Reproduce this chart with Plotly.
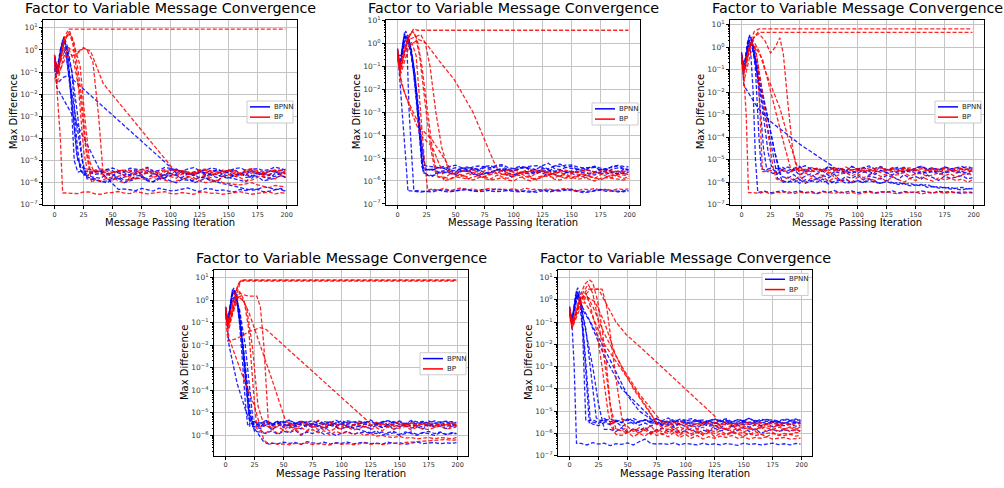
import plotly.graph_objects as go

TITLE = "Factor to Variable Message Convergence"
X_LABEL = "Message Passing Iteration"
Y_LABEL = "Max Difference"
X_TICKS = [0, 25, 50, 75, 100, 125, 150, 175, 200]
Y_TICK_EXPONENTS = [-7, -6, -5, -4, -3, -2, -1, 0, 1]
SERIES_NAMES = ["BPNN", "BP"]
SERIES_COLORS = ["#0000ff", "#ff0000"]
# iterations at which the converged (noise floor) readings are listed
FLOOR_X = [5, 10, 15, 20, 25, 30, 35, 40, 45, 50, 55, 60, 65, 70, 75, 80, 85, 90, 95, 100,
           105, 110, 115, 120, 125, 130, 135, 140, 145, 150, 155, 160, 165, 170, 175, 180,
           185, 190, 195, 199]
FLOOR_UNIT = 1e-6

# each run: (early [iteration, max difference] points,
#            floor readings in units of 1e-6 at the FLOOR_X iterations after the last early point)
P1_BPNN = [
    ([[0, 0.5], [2, 0.1], [5, 1.0], [8, 3.5], [11, 1.0], [14, 0.01], [17, 1e-5], [20, 3e-6]],
     [3.5, 3.0, 2.4, 2.6, 3.9, 3.4, 2.8, 2.2, 3.1, 3.8, 2.3, 2.9, 3.7, 2.4, 2.1, 3.6, 4.2, 2.7, 2.5, 3.1,
      3.6, 2.3, 2.7, 3.9, 3.3, 2.8, 4.0, 2.5, 2.4, 3.5, 3.0, 2.6, 2.2, 3.2, 3.5, 4.1, 3.3, 2.9, 3.1]),
    ([[0, 0.3], [2, 0.08], [6, 1.5], [9, 2.0], [12, 0.3], [16, 1e-3], [19, 2e-5], [23, 4e-6]],
     [2.3, 2.0, 1.7, 1.6, 2.6, 2.4, 1.5, 1.8, 2.2, 2.9, 1.9, 1.5, 2.5, 2.2, 1.6, 2.7, 2.1, 1.7, 2.8, 2.5,
      1.6, 1.9, 2.4, 2.3, 1.8, 1.6, 2.2, 2.8, 1.7, 2.0, 2.6, 1.8, 1.5, 2.6, 2.3, 1.7, 1.9, 2.2, 2.0]),
    ([[0, 0.6], [2, 0.12], [6, 2], [9, 1.2], [13, 0.05], [18, 1e-3], [22, 3e-5], [26, 2e-6]],
     [1.7, 1.5, 1.1, 1.2, 1.6, 1.9, 1.3, 1.4, 2.0, 2.2, 1.2, 1.1, 1.5, 1.7, 2.1, 2.4, 1.4, 1.3, 1.2, 1.8,
      1.6, 1.2, 1.1, 2.0, 1.7, 1.5, 1.3, 1.1, 2.2, 1.9, 1.2, 1.4, 1.6, 2.1, 1.8, 1.3, 1.2, 1.6, 1.4]),
    ([[0, 0.2], [3, 0.1], [7, 3], [10, 1.5], [15, 0.1], [20, 1e-3], [24, 1e-5], [28, 1.5e-6]],
     [1.5, 1.3, 1.1, 1.0, 1.4, 1.6, 1.0, 1.2, 1.5, 1.8, 1.3, 1.1, 1.7, 1.5, 1.2, 1.0, 1.4, 1.7, 1.0, 1.2,
      1.6, 1.4, 1.1, 0.9, 0.8, 0.7, 0.6, 0.55, 0.45, 0.5, 0.65, 0.6, 0.5, 0.5, 0.4, 0.45, 0.6, 0.55, 0.5]),
    ([[0, 0.4], [2, 0.09], [7, 1.2], [10, 0.6], [15, 4e-3], [20, 1e-5], [24, 5e-6]],
     [4.4, 4.0, 3.3, 3.5, 4.1, 4.6, 3.6, 3.2, 4.5, 4.2, 3.8, 5.0, 3.3, 3.6, 4.9, 4.4, 3.7, 3.3, 4.2, 4.8,
      3.5, 3.7, 4.6, 4.1, 3.2, 3.4, 4.3, 4.7, 3.6, 3.9, 4.4, 3.5, 3.9, 5.1, 4.5, 3.8, 3.4, 4.3, 4.0]),
    ([[0, 0.3], [2, 0.02], [16, 1e-3], [28, 5e-5], [40, 3e-6], [55, 5e-7]],
     [.52, .48, .44, .55, .49, .42, .56, .5, .43, .45, .51, .58, .46, .4, .55, .52, .44, .47, .42, .38,
      .5, .44, .53, .5, .39, .41, .48, .55, .43, .46]),
    ([[0, 0.15], [2, 0.03], [8, 0.06], [12, 0.07], [100, 5e-6]],
     [2.7, 3.2, 2.4, 2.1, 3.0, 2.8, 2.2, 1.7, 2.6, 3.0, 1.9, 2.2, 2.5, 1.6, 2.9, 2.4, 2.2, 1.9, 2.8, 2.6]),
    ([[0, 0.5], [3, 0.1], [8, 4], [11, 1.5], [15, 0.1], [19, 1e-4], [22, 4e-6]],
     [2.3, 2.7, 3.0, 3.3, 2.4, 2.0, 3.2, 2.9, 2.1, 2.4, 3.0, 3.5, 2.6, 1.9, 2.3, 2.6, 3.4, 3.1, 2.5, 2.2,
      2.9, 2.8, 3.6, 3.4, 2.4, 2.0, 2.2, 2.5, 3.3, 3.0, 2.7, 2.3, 3.5, 2.9, 2.6, 3.3, 2.2, 2.4, 2.8]),
]
P1_BP = [
    ([[0, 0.3], [2, 0.08], [8, 3], [12, 8.8], [199, 8.8]], None),
    ([[0, 0.6], [2, 0.02], [5, 1e-4], [7, 3.5e-7]],
     [.35, .33, .32, .38, .38, .31, .3, .35, .36, .4, .34, .32, .4, .36, .31, .34, .37, .39, .33, .31,
      .36, .34, .3, .37, .38, .33, .34, .3, .32, .36, .39, .34, .3, .33, .36, .38, .31, .35, .33]),
    ([[0, 0.2], [3, 0.1], [8, 2], [12, 6], [15, 4], [20, 0.05], [25, 3e-5], [29, 2e-6]],
     [3.2, 2.8, 2.4, 2.2, 3.0, 3.5, 2.1, 1.8, 2.7, 3.1, 2.9, 2.5, 3.3, 3.9, 2.6, 2.0, 3.4, 2.9, 2.3, 3.4,
      2.0, 1.7, 3.1, 2.6, 3.8, 3.6, 2.5, 2.1, 2.8, 3.0, 2.2, 2.4, 3.5, 3.7, 2.6, 1.9, 2.4, 2.7, 3.0]),
    ([[0, 0.4], [3, 0.15], [9, 3], [13, 7], [17, 2], [23, 0.01], [27, 5e-5], [31, 3e-6]],
     [3.6, 3.2, 2.8, 2.5, 3.5, 3.8, 2.6, 2.9, 3.9, 3.4, 2.7, 2.2, 3.1, 4.0, 3.6, 3.0, 2.4, 2.6, 3.3, 3.7,
      2.9, 2.4, 3.8, 3.3, 2.5, 2.8, 3.4, 3.9, 2.7, 2.3, 3.2, 3.5, 2.8, 3.1, 3.4, 2.7, 3.0, 3.3, 2.9]),
    ([[0, 0.1], [4, 0.2], [10, 1.5], [15, 1], [20, 0.8], [25, 1.3], [28, 1.0], [33, 0.3], [38, 1e-3], [42, 2e-6]],
     [1.5, 1.3, 2.0, 2.2, 1.4, 1.6, 2.3, 2.7, 1.7, 1.2, 2.2, 1.9, 1.6, 2.5, 1.9, 1.4, 1.8, 2.1, 1.3, 1.1,
      1.9, 2.4, 2.0, 1.7, 1.2, 1.3, 1.8, 2.0, 1.7, 1.5, 2.1, 1.8, 1.6]),
    ([[0, 0.05], [3, 0.08], [10, 0.5], [18, 0.6], [25, 1.2], [31, 0.9], [42, 0.03], [100, 6e-6]],
     [2.8, 3.5, 2.9, 2.4, 3.4, 3.1, 2.3, 2.7, 3.3, 3.8, 2.5, 2.2, 3.0, 3.3, 2.6, 2.9, 3.2, 3.6, 2.4, 2.5]),
    ([[0, 0.3], [2, 0.03], [8, 0.5], [12, 1.2], [16, 0.4], [22, 0.01], [27, 3e-5], [32, 1e-6]],
     [1.4, 1.2, 1.6, 1.8, 1.2, 1.0, 1.4, 1.6, 1.5, 1.3, 1.8, 2.0, 1.3, 1.1, 1.2, 1.4, 1.9, 1.7, 1.2, 1.0,
      1.1, 1.3, 1.0, 0.9, 0.85, 0.8, 0.9, 1.0, 0.8, 0.7, 0.6, 0.75, 0.7, 0.65, 0.7, 0.6]),
    ([[0, 0.5], [3, 0.1], [9, 4], [13, 5], [18, 1], [22, 0.2], [26, 1e-3], [30, 1e-5], [34, 3e-6]],
     [3.8, 4.2, 3.3, 2.9, 3.4, 3.7, 3.6, 3.2, 4.0, 4.4, 3.1, 2.7, 3.5, 3.9, 3.7, 3.3, 2.9, 2.8, 3.8, 4.1,
      3.4, 3.0, 3.2, 3.6, 3.0, 2.6, 3.9, 4.3, 3.5, 3.1, 3.3, 3.8, 3.6, 3.4, 3.2]),
]

P2_BPNN = [
    ([[0, 0.4], [2, 0.1], [5, 1.5], [7, 3.5], [9, 2], [12, 0.3], [16, 0.01], [19, 1e-4], [21, 4e-6]],
     [3.2, 3.0, 3.8, 3.5, 2.7, 2.4, 3.6, 4.1, 3.0, 2.8, 3.9, 3.3, 4.3, 4.6, 3.1, 2.6, 3.4, 3.9, 3.6, 3.1,
      2.5, 2.2, 4.4, 5.5, 3.9, 3.4, 3.2, 2.9, 3.8, 4.2, 2.8, 2.5, 3.3, 3.7, 3.4, 3.0, 3.9, 3.6, 3.2]),
    ([[0, 0.3], [2, 0.12], [5, 1], [7, 2], [10, 1.5], [14, 0.1], [18, 1e-3], [21, 1e-5], [23, 2e-6]],
     [1.8, 1.6, 2.2, 2.5, 2.1, 1.9, 2.6, 2.9, 2.0, 1.7, 2.1, 2.3, 3.0, 2.8, 1.7, 1.5, 2.4, 2.2, 2.0, 2.6,
      2.2, 1.8, 2.5, 3.0, 2.4, 2.1, 1.8, 1.6, 2.1, 2.4, 2.2, 2.0, 2.4, 2.7, 2.1, 1.9, 2.3]),
    ([[0, 0.5], [2, 0.09], [6, 1.2], [8, 1.5], [11, 0.6], [15, 0.02], [19, 1e-4], [22, 3e-6]],
     [3.1, 3.3, 2.5, 2.2, 3.2, 3.8, 2.9, 2.6, 3.5, 3.1, 2.3, 2.0, 3.0, 3.5, 3.1, 2.7, 3.6, 4.0, 2.8, 2.4,
      3.6, 3.2, 2.7, 2.9, 2.6, 2.3, 3.2, 3.6, 2.8, 2.5, 3.1, 3.4, 2.5, 2.1, 3.3, 3.0, 2.8]),
    ([[0, 0.2], [3, 0.15], [6, 2.5], [8, 1.8], [12, 0.5], [16, 4e-3], [20, 3e-5], [22, 2.5e-6]],
     [2.0, 1.7, 2.4, 2.8, 2.3, 2.0, 2.9, 3.2, 2.1, 1.8, 2.2, 2.5, 3.0, 3.4, 2.2, 1.9, 2.3, 2.6, 2.4, 2.1,
      2.7, 3.0, 2.0, 1.6, 2.3, 2.7, 2.5, 2.3, 2.1, 1.8, 2.5, 2.9, 2.3, 2.0, 2.2, 2.4, 2.6]),
    ([[0, 0.6], [1, 0.1], [4, 1e-3], [7, 1e-5], [9, 3.5e-7]],
     [.38, .36, .33, .35, .4, .42, .35, .33, .38, .4, .42, .36, .4, .44, .37, .34, .36, .39, .41, .37,
      .35, .32, .38, .41, .33, .35, .4, .43, .38, .36, .31, .33, .37, .4, .35, .37, .36, .34, .38]),
    ([[0, 0.3], [3, 0.3], [6, 3], [8, 1], [10, 1e-3], [12, 1e-5], [14, 4e-7]],
     [.38, .37, .35, .33, .39, .41, .38, .36, .42, .45, .37, .34, .36, .39, .45, .42, .38, .35, .34, .38,
      .35, .32, .37, .4, .39, .36, .4, .44, .37, .35, .36, .38, .43, .41, .36, .33, .38, .36]),
    ([[0, 0.4], [2, 0.1], [6, 1.8], [8, 2.2], [11, 1.0], [15, 0.05], [19, 2e-4], [22, 1.5e-5], [24, 3e-6]],
     [3.4, 3.0, 3.8, 4.3, 3.1, 2.7, 3.5, 3.8, 3.6, 3.2, 4.2, 4.8, 3.3, 2.9, 3.2, 3.5, 3.8, 4.1, 2.9, 3.3,
      4.7, 6.0, 3.5, 3.1, 3.9, 4.4, 3.2, 2.8, 3.6, 3.9, 3.0, 3.4, 4.1, 4.6, 3.5, 3.2]),
    ([[0, 0.35], [2, 0.11], [6, 1.0], [9, 1.2], [13, 0.2], [17, 5e-3], [20, 1e-4], [23, 5e-6]],
     [4.5, 4.2, 3.9, 3.6, 4.3, 4.9, 3.8, 3.3, 4.1, 4.5, 4.2, 3.8, 4.8, 5.2, 3.9, 3.5, 4.3, 4.0, 4.5, 4.7,
      3.9, 3.4, 4.6, 4.3, 4.9, 5.0, 4.1, 3.7, 3.9, 4.4, 3.6, 3.2, 4.4, 4.8, 4.3, 4.1, 4.0]),
]
P2_BP = [
    ([[0, 0.5], [2, 0.05], [7, 0.8], [11, 2.5], [14, 4.5], [17, 3.8], [199, 3.8]], None),
    ([[0, 0.3], [2, 0.06], [8, 1.2], [12, 3], [15, 2.5], [19, 0.3], [24, 2e-3], [29, 2e-5], [33, 2e-6]],
     [1.5, 1.3, 2.0, 2.2, 1.8, 1.5, 2.3, 2.7, 1.6, 1.2, 1.7, 2.0, 1.9, 1.6, 2.1, 2.4, 1.5, 1.1, 1.6, 1.9,
      2.2, 2.5, 1.7, 1.4, 1.8, 2.1, 1.6, 1.3, 1.9, 2.3, 1.7, 1.9, 1.8, 1.6]),
    ([[0, 0.2], [3, 0.05], [10, 0.8], [18, 1.5], [24, 1.1], [35, 0.2], [49, 0.026], [65, 1e-3], [85, 4e-6]],
     [2.7, 2.9, 2.4, 2.2, 2.8, 2.6, 2.9, 3.1, 2.3, 2.0, 2.5, 2.7, 2.6, 2.3, 2.8, 3.0, 2.4, 2.1, 2.9, 2.8,
      2.6, 2.4, 2.5]),
    ([[0, 0.6], [2, 0.05], [5, 0.01], [12, 1e-3], [20, 1e-4], [30, 3e-5], [38, 3e-6]],
     [1.0, 1.2, 1.5, 1.4, 1.2, 1.5, 1.7, 1.3, 1.1, 1.2, 1.4, 1.1, 1.0, 1.4, 1.6, 1.3, 1.2, 1.5, 1.9, 1.2,
      1.1, 1.4, 1.3, 1.6, 1.5, 1.2, 1.0, 1.3, 1.4, 1.3, 1.2, 1.1, 1.3]),
    ([[0, 0.4], [3, 0.02], [8, 4e-3], [20, 2e-4], [30, 6e-5], [40, 1e-5], [48, 2e-6]],
     [1.8, 1.6, 2.1, 2.4, 1.7, 1.4, 2.3, 2.8, 2.0, 1.8, 1.9, 2.2, 1.7, 1.5, 2.4, 2.6, 2.0, 1.9, 1.6, 1.3,
      2.2, 2.5, 1.9, 1.7, 2.3, 2.1, 1.6, 1.4, 2.0, 2.3, 1.9]),
    ([[0, 0.3], [2, 0.1], [9, 2], [13, 3.5], [17, 1.5], [21, 0.1], [26, 1e-3], [31, 1e-5], [35, 1.5e-6]],
     [1.5, 1.2, 1.6, 1.9, 1.3, 1.1, 1.4, 1.6, 1.9, 2.2, 1.5, 1.3, 1.6, 1.8, 1.2, 1.0, 1.4, 1.7, 1.6, 1.4,
      1.7, 2.0, 1.5, 1.2, 1.3, 1.6, 1.4, 1.1, 1.5, 1.9, 1.6, 1.3, 1.5]),
    ([[0, 0.5], [3, 0.08], [7, 0.5], [12, 1.2], [16, 0.3], [20, 1e-3], [23, 1e-5], [26, 4e-7]],
     [.45, .4, .48, .38, .44, .5, .4, .46, .37, .43, .49, .39, .45, .41, .47, .38, .5, .42, .44, .4,
      .46, .39, .43, .48, .41, .37, .45, .42, .47, .4, .44, .38, .46, .42, .45]),
    ([[0, 0.4], [2, 0.15], [10, 1.5], [15, 2], [20, 2.5], [24, 1.0], [28, 0.1], [33, 1e-3], [38, 3e-5], [45, 2e-6]],
     [2.1, 3.0, 2.4, 3.4, 2.0, 2.8, 3.2, 2.3, 2.9, 2.2, 3.3, 2.5, 2.0, 3.1, 2.4, 2.7, 2.6, 2.2, 2.8, 3.0,
      2.3, 2.6, 2.9, 2.1, 2.5, 2.8, 2.4, 2.2, 2.6, 2.7, 2.5, 2.4]),
]

P3_BPNN = [
    ([[0, 0.5], [2, 0.1], [5, 1.5], [7, 3.5], [9, 2], [12, 0.1], [15, 1e-4], [17, 4e-6]],
     [3.5, 4.2, 3.0, 4.8, 3.3, 4.0, 5.2, 3.1, 4.5, 3.6, 3.0, 4.9, 3.4, 4.1, 3.2, 5.0, 3.7, 4.4, 5.3, 3.8,
      4.6, 3.3, 4.0, 4.7, 3.5, 3.1, 4.4, 5.1, 3.6, 4.2, 3.4, 4.8, 3.9, 4.3, 5.0, 3.7, 4.5, 4.1]),
    ([[0, 0.3], [2, 0.08], [5, 1], [8, 2.5], [11, 0.8], [15, 0.01], [19, 3e-5], [22, 3e-6]],
     [2.8, 2.2, 3.4, 2.5, 3.8, 2.1, 3.0, 3.6, 2.4, 3.2, 2.0, 2.9, 3.5, 2.3, 3.1, 2.6, 3.3, 2.2, 2.9, 3.4,
      2.7, 2.1, 3.2, 2.8, 3.6, 2.4, 3.0, 2.5, 3.3, 2.2, 2.7, 3.5, 2.6, 3.1, 2.3, 2.9, 3.0]),
    ([[0, 0.4], [2, 0.12], [6, 2], [8, 1.5], [12, 0.3], [20, 1e-3], [27, 2e-5], [31, 1.5e-6]],
     [1.2, 1.0, 1.4, 0.9, 1.3, 1.1, 1.5, 1.0, 1.2, 0.9, 1.1, 1.3, 0.95, 1.2, 1.0, 1.4, 1.1, 0.9, 1.2, 1.0,
      0.8, 0.9, 0.7, 0.75, 0.8, 0.6, 0.65, 0.55, 0.6, 0.5, 0.55, 0.6, 0.5, 0.55]),
    ([[0, 0.2], [3, 0.15], [6, 1.2], [9, 1.0], [13, 0.2], [20, 3e-3], [28, 3e-5], [34, 2e-6]],
     [1.8, 1.5, 2.2, 1.3, 1.9, 2.4, 1.4, 2.0, 1.6, 2.3, 1.2, 1.8, 1.5, 2.1, 1.3, 1.9, 1.6, 1.4, 2.0, 1.7,
      1.3, 2.2, 1.5, 1.8, 1.4, 2.1, 1.6, 1.2, 1.9, 1.5, 1.7, 2.0, 1.4, 1.6]),
    ([[0, 0.6], [2, 0.02], [14, 2e-3], [25, 5e-4], [50, 5e-5], [79, 5e-6]],
     [3.0, 2.6, 3.3, 2.4, 3.6, 2.8, 3.1, 2.2, 3.4, 2.7, 3.0, 2.5, 3.2, 2.9, 3.5, 2.3, 3.1, 2.8, 3.3, 2.6,
      3.0, 3.4, 2.5, 2.9, 3.2]),
    ([[0, 0.3], [2, 0.1], [6, 2.5], [8, 0.5], [10, 1e-2], [12, 1e-5], [14, 3.5e-7]],
     [.36, .4, .34, .38, .42, .33, .37, .41, .35, .39, .32, .4, .36, .43, .34, .38, .41, .35, .37, .4,
      .34, .38, .36, .42, .33, .39, .37, .35, .41, .38, .34, .4, .36, .39, .35, .37, .38, .36]),
    ([[0, 0.5], [3, 0.1], [7, 3], [9, 2.2], [13, 0.1], [18, 2e-3], [23, 2e-5], [26, 5e-6]],
     [4.2, 3.6, 4.8, 3.3, 4.5, 5.4, 3.8, 4.1, 3.5, 4.9, 3.7, 4.3, 3.2, 5.1, 3.9, 4.6, 3.4, 4.0, 5.0, 3.6,
      4.4, 3.8, 4.7, 3.3, 4.2, 5.2, 3.9, 4.5, 3.5, 4.8, 4.0, 3.7, 4.4, 5.0, 4.1]),
    ([[0, 0.35], [2, 0.09], [6, 1.5], [9, 1.2], [14, 0.05], [22, 1e-3], [30, 1e-5], [35, 1e-6]],
     [1.1, 1.0, 1.3, 0.9, 1.2, 1.0, 1.4, 0.85, 1.1, 1.25, 0.9, 1.0, 1.15, 0.95, 1.2, 1.0, 0.9, 1.1, 0.85, 1.0,
      0.8, 0.9, 0.75, 0.7, 0.8, 0.6, 0.65, 0.55, 0.6, 0.5, 0.45, 0.55, 0.5]),
]
P3_BP = [
    ([[0, 0.4], [2, 0.06], [7, 1.5], [11, 5], [15, 6.5], [199, 6.5]], None),
    ([[0, 0.3], [3, 0.1], [9, 2], [14, 4.5], [20, 4.5], [199, 4.5]], None),
    ([[0, 0.3], [2, 0.1], [7, 1], [11, 3], [15, 4], [20, 2], [25, 0.55], [29, 1.0], [33, 2.6], [36, 0.5],
      [40, 3e-3], [44, 3e-5], [48, 3e-6]],
     [3.3, 3.8, 2.9, 4.2, 3.1, 3.6, 4.5, 3.0, 3.9, 3.4, 4.1, 2.8, 3.7, 3.2, 4.4, 3.5, 3.9, 3.0, 4.3, 3.6,
      3.2, 4.0, 3.4, 3.8, 2.9, 4.1, 3.5, 3.3, 3.9, 3.7, 3.5]),
    ([[0, 0.5], [2, 0.05], [4, 1e-3], [6, 3.5e-7]],
     [.35, .32, .38, .3, .36, .34, .4, .31, .37, .33, .35, .3, .38, .34, .32, .39, .31, .36, .3, .34,
      .37, .32, .35, .39, .33, .31, .36, .34, .38, .3, .35, .33, .37, .32, .36, .34, .31, .35, .33]),
    ([[0, 0.2], [3, 0.12], [8, 1.5], [11, 1.2], [14, 0.2], [16, 1e-3], [17, 3e-5], [18, 3e-6]],
     [3.0, 3.4, 2.6, 3.8, 2.8, 3.2, 4.0, 2.7, 3.5, 2.9, 3.7, 2.5, 3.3, 3.9, 2.8, 3.6, 3.1, 4.1, 3.0, 3.4,
      2.7, 3.8, 3.2, 2.9, 3.6, 3.3, 4.0, 2.8, 3.5, 3.1, 3.9, 3.0, 3.4, 2.7, 3.7, 3.2, 3.5, 3.0]),
    ([[0, 0.4], [2, 0.1], [7, 1], [10, 2], [15, 0.7], [20, 0.1], [33, 2e-3], [40, 1e-4], [48, 5e-6]],
     [2.2, 2.6, 1.8, 2.4, 2.0, 2.8, 1.7, 2.3, 2.7, 1.9, 2.5, 1.6, 2.1, 2.6, 1.8, 2.4, 2.0, 2.2, 2.7, 1.9,
      2.3, 2.5, 1.8, 2.1, 2.6, 2.0, 2.4, 1.7, 2.2, 2.5, 2.1]),
    ([[0, 0.3], [2, 0.08], [6, 0.8], [9, 1.5], [12, 0.8], [16, 0.05], [22, 3e-4], [27, 5e-6]],
     [1.4, 1.1, 1.7, 1.2, 1.9, 1.0, 1.5, 1.3, 1.8, 1.1, 1.6, 1.2, 1.4, 1.0, 1.7, 1.3, 1.5, 1.2, 1.6, 1.1,
      1.8, 1.3, 1.0, 1.5, 1.2, 1.7, 1.4, 1.1, 1.6, 1.3, 1.5, 1.2, 1.4, 1.0, 1.3]),
    ([[0, 0.25], [2, 0.03], [8, 0.6], [12, 1], [18, 0.3], [25, 0.01], [35, 1e-4], [43, 3e-6]],
     [3.8, 4.3, 3.4, 4.6, 3.6, 4.0, 3.3, 4.4, 3.7, 4.8, 3.5, 4.1, 3.2, 4.5, 3.9, 4.7, 3.6, 4.2, 3.4, 4.0,
      4.4, 3.7, 4.6, 3.5, 4.1, 3.8, 4.3, 3.6, 4.5, 3.9, 4.0, 3.8]),
]

P4_BPNN = [
    ([[0, 0.5], [2, 0.1], [5, 1.5], [7, 3.5], [9, 2], [12, 0.1], [15, 1e-3], [17, 3e-5], [19, 3e-6]],
     [3.0, 3.6, 2.5, 3.9, 2.8, 3.3, 4.2, 2.6, 3.5, 3.0, 4.0, 2.7, 3.4, 2.9, 3.8, 2.4, 3.2, 3.7, 2.8, 3.3,
      3.9, 2.6, 3.1, 3.6, 2.9, 4.1, 3.0, 2.7, 3.5, 3.2, 3.8, 2.5, 3.4, 3.0, 3.7, 2.9, 3.3, 3.1]),
    ([[0, 0.3], [2, 0.08], [5, 1], [7, 2.5], [10, 1.2], [14, 0.02], [18, 1e-4], [21, 2.5e-6]],
     [2.4, 2.0, 2.9, 1.8, 2.6, 3.2, 2.1, 2.7, 1.9, 3.0, 2.2, 2.5, 1.7, 2.8, 2.3, 1.9, 3.1, 2.1, 2.6, 2.4,
      2.0, 2.8, 2.2, 3.0, 1.8, 2.5, 2.7, 2.1, 2.4, 1.9, 2.9, 2.3, 2.6, 2.0, 2.5, 2.7, 2.2, 2.4]),
    ([[0, 0.4], [2, 0.12], [6, 2], [8, 2.8], [11, 0.6], [16, 3e-3], [20, 1e-5], [23, 4e-6]],
     [3.8, 3.3, 4.4, 3.1, 4.0, 3.5, 4.6, 3.2, 4.1, 3.6, 3.0, 4.3, 3.4, 3.9, 3.1, 4.5, 3.5, 4.0, 3.3, 3.7,
      4.2, 3.2, 3.8, 4.4, 3.4, 3.9, 3.0, 4.1, 3.6, 3.3, 4.3, 3.5, 3.8, 4.0, 3.4, 3.7, 3.5]),
    ([[0, 0.2], [3, 0.15], [6, 1.2], [9, 1.5], [13, 0.1], [18, 5e-4], [22, 5e-6], [25, 1.5e-6]],
     [1.4, 1.2, 1.6, 1.1, 1.5, 1.3, 1.7, 1.0, 1.4, 1.2, 1.6, 1.1, 1.3, 1.0, 1.2, 1.5, 1.1, 1.3, 1.4, 1.2,
      1.6, 1.0, 1.3, 1.5, 1.1, 1.4, 1.2, 1.0, 1.3, 1.5, 1.2, 1.4, 1.1, 1.3, 1.2, 1.3]),
    ([[0, 0.5], [3, 0.01], [10, 2e-4], [18, 1e-5], [25, 2e-6], [33, 5e-7], [38, 4e-7]],
     [.45, .42, .5, .44, .48, .4, .52, .46, .43, .49, .41, .47, .44, .5, .42, .46, .48, .43, .45, .41,
      .49, .44, .47, .4, .46, .5, .43, .45, .48, .42, .46, .44, .47]),
    ([[0, 0.35], [2, 0.1], [6, 3], [8, 2], [12, 0.3], [17, 1e-3], [21, 1e-5], [24, 3e-6]],
     [2.8, 2.3, 3.3, 2.6, 3.6, 2.2, 3.0, 2.5, 3.4, 2.4, 3.1, 2.7, 2.1, 3.2, 2.6, 3.5, 2.3, 2.9, 2.5, 3.1,
      2.7, 3.4, 2.2, 2.8, 3.0, 2.4, 3.3, 2.6, 2.9, 2.3, 3.2, 2.7, 3.0, 2.5, 2.8, 2.6]),
    ([[0, 0.45], [2, 0.09], [5, 0.8], [8, 1.2], [12, 0.4], [17, 0.01], [21, 1e-4], [24, 3e-6]],
     [3.3, 2.8, 3.8, 3.0, 4.1, 2.7, 3.5, 3.1, 3.9, 2.9, 3.4, 2.6, 3.2, 2.8, 3.6, 3.0, 2.4, 2.0, 1.7, 1.5,
      1.3, 1.2, 1.4, 1.1, 1.3, 1.0, 1.2, 1.4, 1.1, 1.3, 1.2, 1.0, 1.3, 1.1, 1.2, 1.2]),
    ([[0, 0.3], [2, 0.11], [6, 2.2], [9, 1.8], [13, 0.05], [18, 1e-4], [21, 4e-6]],
     [4.0, 3.5, 4.6, 3.3, 4.2, 3.8, 4.8, 3.4, 4.3, 3.7, 4.5, 3.2, 4.1, 3.6, 4.7, 3.5, 4.4, 3.9, 4.2, 3.6,
      4.8, 3.4, 4.0, 4.5, 3.7, 4.3, 3.3, 4.6, 3.9, 4.1, 3.5, 4.4, 3.8, 4.2, 4.0, 3.7, 4.3, 4.1]),
]
P4_BP = [
    ([[0, 0.3], [2, 0.08], [7, 1], [11, 5], [14, 7.5], [199, 7.5]], None),
    ([[0, 0.4], [2, 0.1], [8, 2], [12, 6.5], [16, 8], [199, 8]], None),
    ([[0, 0.5], [3, 0.05], [9, 1.5], [13, 7], [17, 7], [199, 7]], None),
    ([[0, 0.2], [2, 0.015], [10, 0.02], [20, 0.04], [30, 0.06], [35, 0.05], [121, 5e-6]],
     [3.0, 3.4, 2.6, 3.8, 2.4, 3.2, 2.8, 3.6, 2.7, 3.1, 3.5, 2.5, 3.3, 2.9, 3.6, 2.7]),
    ([[0, 0.4], [3, 0.08], [12, 2], [20, 1.5], [27, 1.5], [30, 0.5], [33, 1e-2], [35, 1e-4], [37, 3e-6]],
     [2.0, 2.4, 1.7, 2.6, 1.9, 2.2, 1.6, 2.5, 1.8, 2.3, 1.5, 2.1, 1.9, 2.4, 1.7, 2.0, 2.6, 1.8, 2.2, 1.6,
      2.4, 1.9, 2.1, 2.5, 1.7, 2.3, 2.0, 1.8, 2.2, 2.6, 1.9, 2.1, 2.3]),
    ([[0, 0.3], [3, 0.1], [10, 1.5], [15, 1.0], [20, 0.3], [30, 0.01], [40, 3e-4], [52, 4e-6]],
     [3.6, 2.5, 4.2, 2.8, 3.3, 4.6, 2.6, 3.9, 3.0, 2.4, 3.5, 2.9, 4.0, 3.2, 2.7, 3.8, 3.1, 2.6, 3.4, 4.1,
      2.9, 3.3, 2.8, 3.6, 3.0, 3.5, 2.7, 3.2, 2.9, 3.1]),
    ([[0, 0.4], [3, 0.02], [15, 4e-4], [25, 2e-5], [33, 6e-7], [38, 4e-7]],
     [.45, .4, .42, .38, .44, .4, .46, .39, .43, .41, .37, .45, .4, .43, .38, .42, .46, .4, .44, .39,
      .42, .45, .4, .48, .5, .52, .55, .6, .58, .62, .65, .6, .63]),
    ([[0, 0.5], [2, 0.1], [8, 1], [12, 2.5], [16, 1], [20, 0.05], [24, 1e-4], [27, 2e-6]],
     [1.6, 1.3, 1.9, 1.2, 1.7, 1.4, 2.0, 1.1, 1.5, 1.8, 1.3, 1.6, 1.0, 1.5, 1.2, 1.4, 1.1, 1.3, 1.0, 1.2,
      0.9, 1.0, 0.85, 0.8, 0.9, 0.75, 0.8, 0.7, 0.75, 0.8, 0.7, 0.8, 0.75, 0.7, 0.8]),
    ([[0, 0.3], [2, 0.06], [9, 1.2], [13, 1.5], [18, 0.5], [23, 0.01], [28, 2e-5], [33, 3e-6]],
     [2.6, 2.2, 3.0, 2.4, 3.3, 2.0, 2.8, 3.5, 2.3, 2.9, 2.1, 3.1, 2.5, 3.4, 2.2, 2.7, 3.0, 2.4, 2.8, 2.6,
      3.2, 2.3, 2.9, 2.5, 3.1, 2.2, 2.7, 3.3, 2.4, 2.8, 2.6, 3.0, 2.5, 2.7]),
]

P5_BPNN = [
    ([[0, 0.5], [2, 0.1], [5, 1.5], [7, 3.5], [9, 2], [11, 0.1], [13, 1e-4], [14, 4e-6]],
     [3.5, 4.1, 3.0, 4.6, 3.3, 3.9, 3.1, 4.4, 3.6, 3.2, 4.0, 3.4, 4.8, 3.1, 3.7, 4.2, 3.3, 3.9, 3.5, 4.3,
      3.0, 3.8, 4.5, 3.4, 3.9, 3.2, 4.1, 3.6, 4.7, 3.3, 3.8, 4.2, 3.5, 3.1, 4.0, 3.7, 4.4, 3.5]),
    ([[0, 0.3], [2, 0.08], [5, 1], [7, 2.5], [10, 0.8], [13, 0.01], [16, 1e-4], [18, 3e-6]],
     [2.6, 2.2, 3.1, 2.4, 3.4, 2.0, 2.8, 3.2, 2.3, 2.9, 2.1, 3.0, 2.5, 3.3, 2.2, 2.7, 3.5, 2.4, 2.8, 3.1,
      2.3, 2.9, 2.6, 3.4, 2.1, 2.7, 3.2, 2.5, 3.0, 2.2, 2.8, 3.3, 2.4, 2.9, 2.6, 3.1, 2.7, 2.8]),
    ([[0, 0.4], [2, 0.1], [4, 1e-3], [5, 1e-5], [6, 3.5e-7]],
     [.35, .3, .38, .33, .36, .28, .34, .32, .37, .3, .42, .55, .35, .33, .34, .32, .37, .3, .35, .33,
      .3, .36, .31, .34, .3, .35, .33, .29, .36, .32, .34, .3, .33, .36, .31, .34, .3, .35, .33]),
    ([[0, 0.3], [2, 0.1], [6, 1.5], [9, 1], [12, 0.3], [17, 0.12], [30, 3e-3], [45, 1e-4], [69, 6e-6]],
     [3.0, 2.6, 3.4, 2.8, 3.7, 2.5, 3.2, 2.9, 3.6, 2.7, 3.3, 3.0, 3.8, 2.9, 3.1, 2.6, 3.5, 2.8, 3.2, 3.4,
      2.7, 3.6, 3.0, 2.9, 3.3, 3.1, 3.0]),
    ([[0, 0.35], [2, 0.1], [7, 2], [10, 0.5], [15, 0.02], [20, 1e-3], [25, 2e-5], [30, 1.5e-6]],
     [1.5, 1.2, 1.8, 1.1, 1.6, 1.3, 1.9, 1.0, 1.4, 1.7, 1.2, 1.5, 1.1, 1.3, 1.6, 1.0, 1.4, 1.2, 1.7, 1.3,
      1.5, 1.1, 1.4, 1.8, 1.2, 1.6, 1.0, 1.3, 1.5, 1.2, 1.4, 1.3, 1.5, 1.2, 1.3]),
    ([[0, 0.45], [2, 0.12], [6, 1.2], [9, 0.9], [14, 0.05], [19, 3e-4], [23, 5e-6]],
     [4.0, 3.6, 4.5, 3.3, 4.2, 3.8, 4.7, 3.5, 4.1, 3.4, 4.4, 3.7, 4.9, 3.2, 4.3, 3.9, 4.6, 3.6, 4.0, 3.5,
      4.2, 3.8, 4.5, 3.3, 4.1, 3.7, 4.8, 3.4, 4.3, 3.9, 4.0, 3.6, 4.4, 4.1, 3.8, 4.0]),
    ([[0, 0.2], [3, 0.15], [7, 1.8], [10, 0.6], [18, 0.1], [35, 2e-3], [50, 5e-5], [60, 1e-5], [75, 3e-6]],
     [2.2, 2.5, 1.9, 2.7, 2.0, 2.4, 1.8, 2.6, 2.1, 2.3, 1.7, 2.8, 2.0, 2.2, 2.5, 1.9, 2.4, 2.1, 2.6, 2.0,
      2.3, 2.2, 2.5, 2.1, 2.2]),
    ([[0, 0.3], [2, 0.09], [6, 2.5], [8, 1.5], [12, 0.02], [15, 1e-4], [17, 3e-6]],
     [3.2, 2.8, 3.7, 2.6, 3.5, 3.0, 4.0, 2.7, 3.3, 3.9, 2.9, 3.6, 2.5, 3.4, 3.1, 3.8, 2.6, 3.2, 3.5, 3.0,
      3.7, 2.8, 3.4, 3.9, 2.7, 3.3, 3.6, 3.0, 3.8, 2.9, 3.5, 3.1, 3.4, 2.8, 3.6, 3.2, 3.5, 3.3]),
]
P5_BP = [
    ([[0, 0.4], [2, 0.1], [8, 1], [13, 5], [17, 8], [20, 6], [24, 1], [28, 0.05], [32, 1e-3], [35, 2e-5], [38, 1.5e-6]],
     [1.6, 1.3, 2.0, 1.2, 1.8, 1.4, 2.2, 1.1, 1.7, 1.5, 1.9, 1.2, 2.1, 1.3, 1.6, 1.0, 1.4, 1.2, 1.8, 1.5,
      1.3, 1.7, 1.1, 1.6, 1.4, 1.9, 1.2, 1.5, 1.3, 1.6, 1.2, 1.4, 1.3]),
    ([[0, 0.3], [3, 0.1], [10, 1], [18, 3], [25, 3], [30, 1], [35, 0.3], [40, 0.1], [49, 0.027], [63, 6e-3], [125, 6e-6]],
     [2.0, 1.6, 2.4, 1.3, 2.1, 1.7, 2.6, 1.5, 2.2, 1.8, 2.5, 1.4, 2.0, 1.7, 1.9]),
    ([[0, 0.5], [2, 0.05], [10, 1], [15, 3], [20, 3], [28, 3], [32, 0.5], [36, 0.01], [40, 3e-4], [45, 5e-6]],
     [1.2, 1.5, 1.0, 1.7, 1.1, 1.4, 0.9, 1.6, 1.2, 1.0, 1.3, 0.8, 1.1, 0.9, 1.2, 0.7, 1.0, 0.8, 1.1, 0.9,
      0.75, 1.0, 0.8, 0.9, 0.7, 1.0, 0.85, 0.8, 0.9, 0.75, 0.8]),
    ([[0, 0.2], [2, 0.08], [8, 0.5], [15, 1.5], [20, 0.5], [30, 0.03], [45, 1e-3], [60, 6e-5], [78, 4e-6]],
     [2.8, 3.2, 2.4, 3.5, 2.6, 3.0, 2.2, 3.3, 2.7, 3.1, 2.3, 3.4, 2.5, 2.9, 2.8, 3.2, 2.6, 3.0, 2.4, 3.1,
      2.7, 2.9, 2.5, 2.8, 2.6]),
    ([[0, 0.3], [3, 0.1], [9, 1], [14, 2], [18, 0.5], [23, 0.05], [28, 1e-3], [33, 1e-5], [36, 2e-6]],
     [0.9, 0.8, 1.1, 0.7, 1.0, 0.75, 1.2, 0.8, 0.95, 0.7, 1.1, 0.65, 0.9, 0.6, 0.8, 0.55, 0.7, 0.6, 0.75, 0.65,
      0.8, 0.6, 0.7, 0.55, 0.65, 0.6, 0.7, 0.55, 0.6, 0.65, 0.55, 0.6, 0.6]),
    ([[0, 0.4], [2, 0.05], [8, 0.3], [13, 0.8], [18, 0.3], [30, 0.01], [50, 3e-4], [70, 8e-6]],
     [2.5, 2.9, 2.2, 3.1, 2.4, 2.7, 2.0, 2.8, 2.3, 3.0, 2.1, 2.6, 2.4, 2.9, 2.2, 2.7, 2.5, 3.0, 2.3, 2.6,
      2.8, 2.4, 2.7, 2.5, 2.6, 2.9]),
    ([[0, 0.25], [2, 0.06], [10, 1.5], [16, 5], [20, 2], [25, 0.1], [30, 2e-3], [35, 2e-5], [40, 1.5e-6]],
     [1.3, 1.0, 1.6, 1.1, 1.4, 0.9, 1.5, 1.2, 1.0, 1.4, 0.85, 1.2, 0.95, 1.3, 0.8, 1.1, 1.0, 1.3, 0.9, 1.2,
      1.0, 1.1, 0.85, 1.2, 0.9, 1.0, 1.1, 0.8, 1.0, 0.9, 1.1, 1.0]),
    ([[0, 0.35], [3, 0.08], [8, 0.8], [14, 1.5], [22, 0.8], [30, 0.1], [40, 3e-3], [55, 1e-4], [75, 3e-6]],
     [1.8, 2.2, 1.5, 2.0, 1.4, 2.3, 1.6, 1.9, 1.3, 2.1, 1.7, 1.5, 1.9, 2.2, 1.6, 1.8, 1.4, 2.0, 1.7, 1.5,
      1.9, 1.6, 1.8, 1.5, 1.9]),
]

PANEL_RUNS = [(P1_BPNN, P1_BP), (P2_BPNN, P2_BP), (P3_BPNN, P3_BP), (P4_BPNN, P4_BP), (P5_BPNN, P5_BP)]

# ---- layout (pixels in a 1004 x 488 figure) ----
W, H = 1004, 488
AX_X = [(43, 297), (386, 640), (730, 984), (214, 468), (558, 812)]
AX_Y = [(15, 204), (15, 204), (15, 204), (271, 460), (271, 460)]
Y_RANGES = [(-7.0, 1.37), (-7.04, 1.04), (-7.0, 1.22), (-6.9, 1.32), (-7.0, 1.32)]
LEGEND_BOX = [(247, 98), (592, 100), (935, 98), (420, 355), (762, 274)]  # top-left corner, px
LEG_W, LEG_H = 46, 22.5

FONT = "DejaVu Sans"


def build(points, floor):
    xs = [p[0] for p in points]
    ys = [p[1] for p in points]
    if floor is not None:
        grid = [fx for fx in FLOOR_X if fx > xs[-1]]
        for fx, fv in zip(grid, floor):
            xs.append(fx)
            ys.append(fv * FLOOR_UNIT)
    return xs, ys


def px(x):
    return x / W


def py(y):
    return 1 - y / H


def sup_label(e):
    return "10<sup>" + (str(e) if e >= 0 else "\u2212" + str(-e)) + "</sup>"


fig = go.Figure()
annotations = []
shapes = []
layout = {}
for i, (runs_nn, runs_bp) in enumerate(PANEL_RUNS):
    n = i + 1
    xa = "x" if n == 1 else f"x{n}"
    ya = "y" if n == 1 else f"y{n}"
    for series_idx, runs in enumerate([runs_nn, runs_bp]):
        color = SERIES_COLORS[series_idx]
        for pts, floor in runs:
            xs, ys = build(pts, floor)
            fig.add_trace(go.Scatter(
                x=xs, y=ys, mode="lines", xaxis=xa, yaxis=ya,
                line=dict(color=color, width=1.3, dash="4px,2px"),
                opacity=0.85, showlegend=False, hoverinfo="skip"))

    x0, x1 = AX_X[i]
    ytop, ybot = AX_Y[i]
    xd = [px(x0), px(x1)]
    yd = [py(ybot), py(ytop)]
    axis_common = dict(
        showline=True, mirror=True, linecolor="black", linewidth=1,
        ticks="outside", ticklen=3, tickwidth=1, tickcolor="black",
        showgrid=True, gridcolor="#c4c4c4", gridwidth=1.2, zeroline=False)
    layout["xaxis" if n == 1 else f"xaxis{n}"] = dict(
        domain=xd, anchor=ya, range=[-9.95, 208.95],
        tickmode="array", tickvals=X_TICKS, ticktext=[str(t) for t in X_TICKS],
        tickfont=dict(family=FONT, size=6.5, color="#333333"), **axis_common)
    ylo, yhi = Y_RANGES[i]
    exps = [e for e in Y_TICK_EXPONENTS if ylo - 0.01 <= e <= yhi]
    layout["yaxis" if n == 1 else f"yaxis{n}"] = dict(
        domain=yd, anchor=xa, type="log", range=[ylo, yhi],
        tickmode="array", tickvals=[10.0 ** e for e in exps], ticktext=[sup_label(e) for e in exps],
        tickfont=dict(family=FONT, size=7.5, color="#333333"),
        minor=dict(ticks="outside", ticklen=1.5, tickcolor="black", dtick="D1", showgrid=False),
        **axis_common)

    # legend box drawn in figure pixels
    lx, ly = LEGEND_BOX[i]
    shapes.append(dict(type="rect", xref="paper", yref="paper",
                       x0=px(lx), x1=px(lx + LEG_W), y0=py(ly + LEG_H), y1=py(ly),
                       line=dict(color="#cccccc", width=1), fillcolor="white", layer="above"))
    for k, name in enumerate(SERIES_NAMES):
        yy = ly + 6 + k * 10.5
        shapes.append(dict(type="line", xref="paper", yref="paper",
                           x0=px(lx + 3), x1=px(lx + 23), y0=py(yy), y1=py(yy),
                           line=dict(color=SERIES_COLORS[k], width=1.5), layer="above"))
        annotations.append(dict(x=px(lx + 25), y=py(yy), xref="paper", yref="paper",
                                xanchor="left", yanchor="middle", text=name, showarrow=False,
                                font=dict(family=FONT, size=7, color="#222222")))

    cx = px((x0 + x1) / 2)
    annotations.append(dict(
        x=cx, y=py(ytop), xref="paper", yref="paper", xanchor="center", yanchor="bottom",
        yshift=2, text=TITLE, showarrow=False, font=dict(family=FONT, size=14.3, color="black")))
    annotations.append(dict(
        x=cx, y=py(ybot + 18), xref="paper", yref="paper", xanchor="center", yanchor="middle",
        text=X_LABEL, showarrow=False, font=dict(family=FONT, size=10, color="black")))
    annotations.append(dict(
        x=px(x0 - 30), y=(yd[0] + yd[1]) / 2, xref="paper", yref="paper", xanchor="center", yanchor="middle",
        text=Y_LABEL, textangle=-90, showarrow=False, font=dict(family=FONT, size=10, color="black")))

fig.update_layout(
    width=W, height=H, margin=dict(l=0, r=0, t=0, b=0),
    paper_bgcolor="white", plot_bgcolor="white", showlegend=False,
    annotations=annotations, shapes=shapes, **layout)

fig.write_html("out.html", config={"displayModeBar": False},
               post_script="document.body.style.margin='0';document.body.style.overflow='hidden';")
